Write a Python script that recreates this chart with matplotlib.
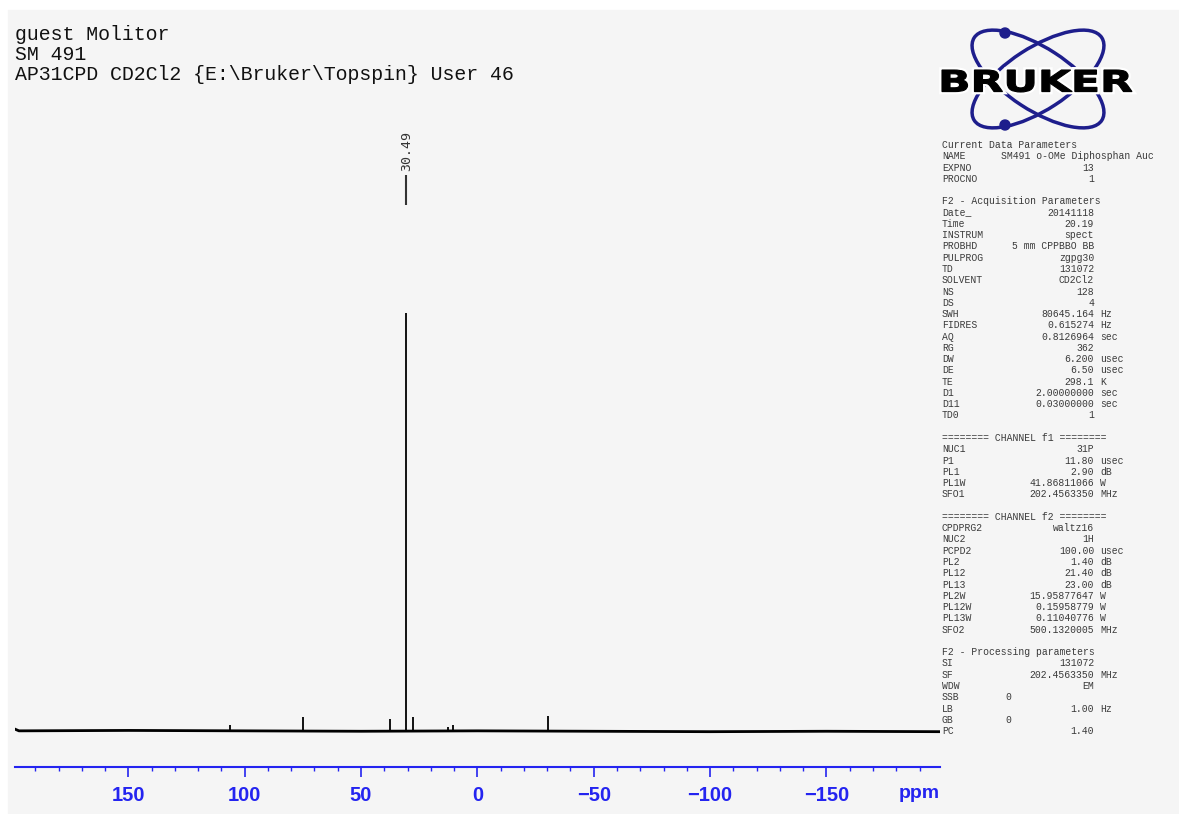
import numpy as np
import matplotlib.pyplot as plt
from matplotlib.patches import Ellipse, Circle, PathPatch, Rectangle
from matplotlib.textpath import TextPath
from matplotlib.font_manager import FontProperties
from matplotlib.transforms import Affine2D

W, H = 1179, 814

title_lines = ["guest Molitor", "SM 491", "AP31CPD CD2Cl2 {E:\\Bruker\\Topspin} User 46"]

# peaks (ppm, relative intensity, main peak = 100)
peak_ppm = [106.1, 74.8, 37.6, 30.49, 27.6, 12.7, 10.4, -30.2]
peak_int = [1.2, 3.1, 2.6, 100.0, 3.1, 0.7, 1.2, 3.4]
base_ppm = [199.5, 197.0, 150, 100, 50, 0, -50, -100, -150, -198.8]
base_int = [0.4, -0.2, -0.1, -0.2, -0.3, -0.2, -0.3, -0.4, -0.3, -0.4]

label_ppm = 30.49
label_text = "30.49"

major_ticks = [150, 100, 50, 0, -50, -100, -150]
minor_ticks = list(range(-190, 200, 10))

params = [
    ("Current Data Parameters", None, None),
    ("NAME", "SM491 o-OMe Diphosphan Auc", None),
    ("EXPNO", "13", None),
    ("PROCNO", "1", None),
    ("", None, None),
    ("F2 - Acquisition Parameters", None, None),
    ("Date_", "20141118", None),
    ("Time", "20.19", None),
    ("INSTRUM", "spect", None),
    ("PROBHD", "5 mm CPPBBO BB", None),
    ("PULPROG", "zgpg30", None),
    ("TD", "131072", None),
    ("SOLVENT", "CD2Cl2", None),
    ("NS", "128", None),
    ("DS", "4", None),
    ("SWH", "80645.164", "Hz"),
    ("FIDRES", "0.615274", "Hz"),
    ("AQ", "0.8126964", "sec"),
    ("RG", "362", None),
    ("DW", "6.200", "usec"),
    ("DE", "6.50", "usec"),
    ("TE", "298.1", "K"),
    ("D1", "2.00000000", "sec"),
    ("D11", "0.03000000", "sec"),
    ("TD0", "1", None),
    ("", None, None),
    ("======== CHANNEL f1 ========", None, None),
    ("NUC1", "31P", None),
    ("P1", "11.80", "usec"),
    ("PL1", "2.90", "dB"),
    ("PL1W", "41.86811066", "W"),
    ("SFO1", "202.4563350", "MHz"),
    ("", None, None),
    ("======== CHANNEL f2 ========", None, None),
    ("CPDPRG2", "waltz16", None),
    ("NUC2", "1H", None),
    ("PCPD2", "100.00", "usec"),
    ("PL2", "1.40", "dB"),
    ("PL12", "21.40", "dB"),
    ("PL13", "23.00", "dB"),
    ("PL2W", "15.95877647", "W"),
    ("PL12W", "0.15958779", "W"),
    ("PL13W", "0.11040776", "W"),
    ("SFO2", "500.1320005", "MHz"),
    ("", None, None),
    ("F2 - Processing parameters", None, None),
    ("SI", "131072", None),
    ("SF", "202.4563350", "MHz"),
    ("WDW", "EM", None),
    ("SSB", "0", None),
    ("LB", "1.00", "Hz"),
    ("GB", "0", None),
    ("PC", "1.40", None),
]
left_vals = {"NAME": 1001, "SSB": 1005, "GB": 1005}

blue = "#2424f0"
logo_blue = "#1e1e8c"
mono = "Liberation Mono"
ptxt = "#3a3a3a"

fig = plt.figure(figsize=(W / 100, H / 100), dpi=100)
fig.patch.set_facecolor("white")

bg = fig.add_axes([0, 0, 1, 1])
bg.set_xlim(0, W)
bg.set_ylim(H, 0)
bg.axis("off")
bg.add_patch(Rectangle((8, 10), W - 8, H - 10, color="#f5f5f5", zorder=0))

for i, s in enumerate(title_lines):
    bg.text(15, 35 + i * 19.5, s, family=mono, fontsize=14.3, color="#111111", va="center", ha="left")

for i, (lab, val, unit) in enumerate(params):
    y = 145 + i * 11.27
    bg.text(942, y, lab, family=mono, fontsize=7, color=ptxt, va="center")
    if val is not None:
        if lab in left_vals:
            bg.text(left_vals[lab], y, val, family=mono, fontsize=7, color=ptxt, va="center", ha="left")
        else:
            bg.text(1094, y, val, family=mono, fontsize=7, color=ptxt, va="center", ha="right")
    if unit is not None:
        bg.text(1100, y, unit, family=mono, fontsize=7, color=ptxt, va="center")

# logo
for ang in (33, -33):
    bg.add_patch(Ellipse((1038, 79), 152, 62, angle=ang, fill=False, ec=logo_blue, lw=2.5))
for cy in (33, 125):
    bg.add_patch(Circle((1005, cy), 5, color=logo_blue))
tp = TextPath((0, 0), "BRUKER", size=1, prop=FontProperties(family="DejaVu Sans", weight="bold"))
ext = tp.get_extents()
tr = Affine2D().translate(-ext.x0, -ext.y0).scale(190 / ext.width, -22 / ext.height).translate(942, 92)
path = tr.transform_path(tp)
bg.add_patch(PathPatch(path, fc="white", ec="white", lw=4))
bg.add_patch(PathPatch(path, fc="black", ec="black", lw=0.8))

bg.text(940, 793, "ppm", color=blue, fontsize=14, fontweight="bold", family="Liberation Sans", ha="right", va="center")

ax = fig.add_axes([15 / W, 1 - 767 / H, 925 / W, 667 / H])
ax.patch.set_alpha(0)
ax.plot(base_ppm, base_int, color="black", lw=2.0)
ax.vlines(peak_ppm, 0, peak_int, color="black", lw=1.3)
ax.vlines(label_ppm, 125.9, 133.1, color="#333333", lw=1.5)
ax.text(label_ppm, 134, label_text, rotation=90, ha="center", va="bottom", fontsize=9.5,
        family="DejaVu Sans Mono", color="#333333")
ax.set_xlim(198.7, -198.8)
ax.set_ylim(-8.87, 151.08)
for s in ["top", "left", "right"]:
    ax.spines[s].set_visible(False)
ax.spines["bottom"].set_color(blue)
ax.spines["bottom"].set_linewidth(1.5)
ax.set_yticks([])
ax.set_xticks(major_ticks)
ax.set_xticks(minor_ticks, minor=True)
ax.set_xticklabels([str(t).replace("-", "\u2212") for t in major_ticks])
ax.tick_params(axis="x", which="major", length=7, width=1.2, color=blue, labelcolor=blue, labelsize=14.5, pad=7)
ax.tick_params(axis="x", which="minor", length=3, width=1.0, color=blue)
for lbl in ax.get_xticklabels():
    lbl.set_fontweight("bold")
    lbl.set_family("Liberation Sans")

fig.savefig("out.png", dpi=100)
